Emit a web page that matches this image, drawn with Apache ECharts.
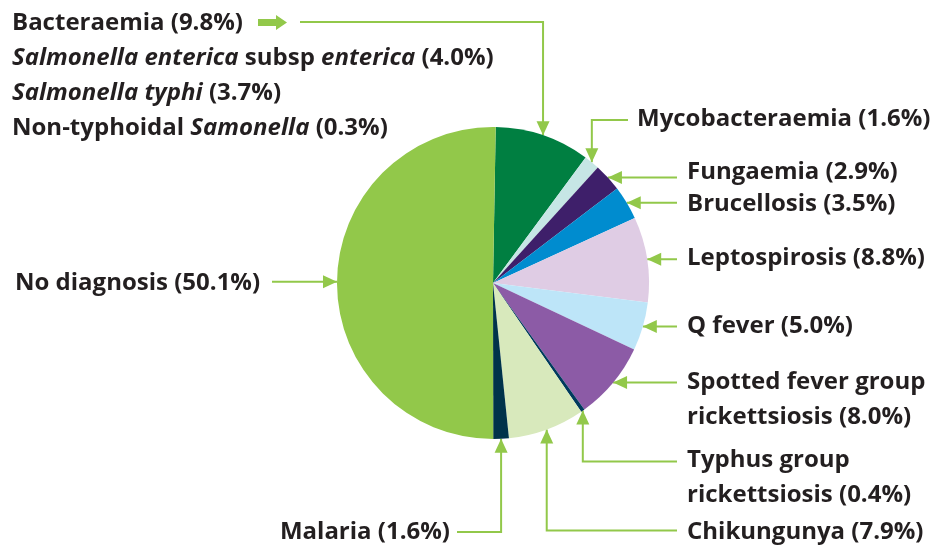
<!DOCTYPE html>
<html>
<head>
<meta charset="utf-8">
<script src="https://cdn.jsdelivr.net/npm/echarts@6/dist/echarts.min.js"></script>
<style>
  html, body { margin: 0; background: #fff; }
  #chart { width: 946px; height: 550px; }
</style>
</head>
<body>
<div id="chart"></div>
<script>
// share of patients by final diagnosis (%), clockwise from 12 o'clock
const categories = ['Bacteraemia', 'Mycobacteraemia', 'Fungaemia', 'Brucellosis', 'Leptospirosis', 'Q fever',
  'Spotted fever group rickettsiosis', 'Typhus group rickettsiosis', 'Chikungunya', 'Malaria', 'No diagnosis'];
const percents = [9.8, 1.6, 2.9, 3.5, 8.8, 5.0, 8.0, 0.4, 7.9, 1.6, 50.1];
const sliceColors = ['#007f41', '#c6e6e5', '#3e1f6a', '#008ccf', '#dfcce4', '#bde5f8',
  '#8c5ba6', '#003a5d', '#d8e9bc', '#00334a', '#92c84a'];

// breakdown listed under the bacteraemia label ('i' = italic part)
const bacteraemiaSub = [
  [['i', 'Salmonella enterica'], ['b', ' subsp '], ['i', 'enterica']],
  [['i', 'Salmonella typhi']],
  [['b', 'Non-typhoidal '], ['i', 'Samonella']]
];
const bacteraemiaSubValues = [4.0, 3.7, 0.3];

const CX = 493, CY = 283, R = 156, START = 89;
const GREEN = '#92c84a';
const TEXT = '#231f20';
const FONT = 'Open Sans';
const FS = 24;
const LINE_H = 35;

// label anchor + how the arrow runs (h = straight, up/down = elbow at y)
const labelPos = [
  { x: 12, y: 23, align: 'left', route: 'down', elbow: 22, end: 300 },
  { x: 637, y: 119, align: 'left', route: 'down', elbow: 120, end: 628 },
  { x: 687, y: 172, align: 'left', route: 'h', end: 677 },
  { x: 687, y: 204, align: 'left', route: 'h', end: 677 },
  { x: 687, y: 258, align: 'left', route: 'h', end: 677 },
  { x: 687, y: 326, align: 'left', route: 'h', end: 677 },
  { x: 687, y: 382, align: 'left', route: 'h', end: 677 },
  { x: 687, y: 460, align: 'left', route: 'up', elbow: 461.5, end: 677 },
  { x: 687, y: 532, align: 'left', route: 'up', elbow: 530.5, end: 677 },
  { x: 450, y: 532, align: 'right', route: 'up', elbow: 532, end: 457 },
  { x: 15, y: 283, align: 'left', route: 'h', end: 272 }
];

// arrow tip = slice mid angle on the rim
const total = percents.reduce((a, b) => a + b, 0);
let acc = 0;
const tips = percents.map(v => {
  const deg = (90 - START) + (acc + v / 2) / total * 360;
  acc += v;
  const a = deg * Math.PI / 180;
  return [CX + R * Math.sin(a), CY - R * Math.cos(a)];
});

function linePoints(i) {
  const t = tips[i], p = labelPos[i];
  if (p.route === 'h') return [t, [(t[0] + p.end) / 2, t[1]], [p.end, t[1]]];
  return [t, [t[0], p.elbow], [p.end, p.elbow]];
}

function arrowHead(i) {
  const t = tips[i], p = labelPos[i];
  const L = 14, W = 6.5;
  let pts;
  if (p.route === 'h') {
    const d = p.end > t[0] ? 1 : -1;
    pts = [t, [t[0] + d * L, t[1] - W], [t[0] + d * L, t[1] + W]];
  } else {
    const d = p.elbow > t[1] ? 1 : -1;
    pts = [t, [t[0] - W, t[1] + d * L], [t[0] + W, t[1] + d * L]];
  }
  return { type: 'polygon', shape: { points: pts }, style: { fill: GREEN }, z: 100 };
}

const pct = v => '(' + v.toFixed(1) + '%)';

function labelText(i) {
  const name = categories[i].replace(' rickettsiosis', '\nrickettsiosis');
  let s = '{b|' + name + ' ' + pct(percents[i]) + '}';
  if (i === 0) {
    bacteraemiaSub.forEach((segs, k) => {
      s += '\n' + segs.map(([st, t]) => '{' + st + '|' + t + '}').join('') + '{b| ' + pct(bacteraemiaSubValues[k]) + '}';
    });
  }
  return s;
}

const chart = echarts.init(document.getElementById('chart'));
const option = {
  animation: false,
  backgroundColor: '#fff',
  series: [{
    type: 'pie',
    center: [CX, CY],
    radius: R,
    startAngle: START,
    clockwise: true,
    avoidLabelOverlap: false,
    emphasis: { disabled: true },
    itemStyle: { borderWidth: 0 },
    data: categories.map((c, i) => ({ name: c, value: percents[i], itemStyle: { color: sliceColors[i] } })),
    label: {
      show: true,
      position: 'outside',
      formatter: p => labelText(p.dataIndex),
      color: TEXT,
      fontFamily: FONT,
      fontSize: FS,
      fontWeight: 'bold',
      lineHeight: LINE_H,
      rich: {
        b: { fontFamily: FONT, fontSize: FS, fontWeight: 'bold', color: TEXT, lineHeight: LINE_H },
        i: { fontFamily: FONT, fontSize: FS, fontWeight: 'bold', fontStyle: 'italic', color: TEXT, lineHeight: LINE_H }
      }
    },
    labelLine: {
      show: true,
      smooth: false,
      lineStyle: { color: GREEN, width: 2 }
    },
    labelLayout: params => {
      const i = params.dataIndex, p = labelPos[i];
      return {
        x: p.x,
        y: p.y - LINE_H / 2,
        align: p.align,
        verticalAlign: 'top',
        labelLinePoints: linePoints(i)
      };
    }
  }],
  graphic: categories.map((c, i) => arrowHead(i)).concat([{
    // block arrow after the bacteraemia heading
    type: 'polygon',
    shape: { points: [[258, 19], [276, 19], [276, 15], [287, 22.5], [276, 30], [276, 26], [258, 26]] },
    style: { fill: GREEN },
    z: 100
  }])
};
chart.setOption(option);
</script>
</body>
</html>
